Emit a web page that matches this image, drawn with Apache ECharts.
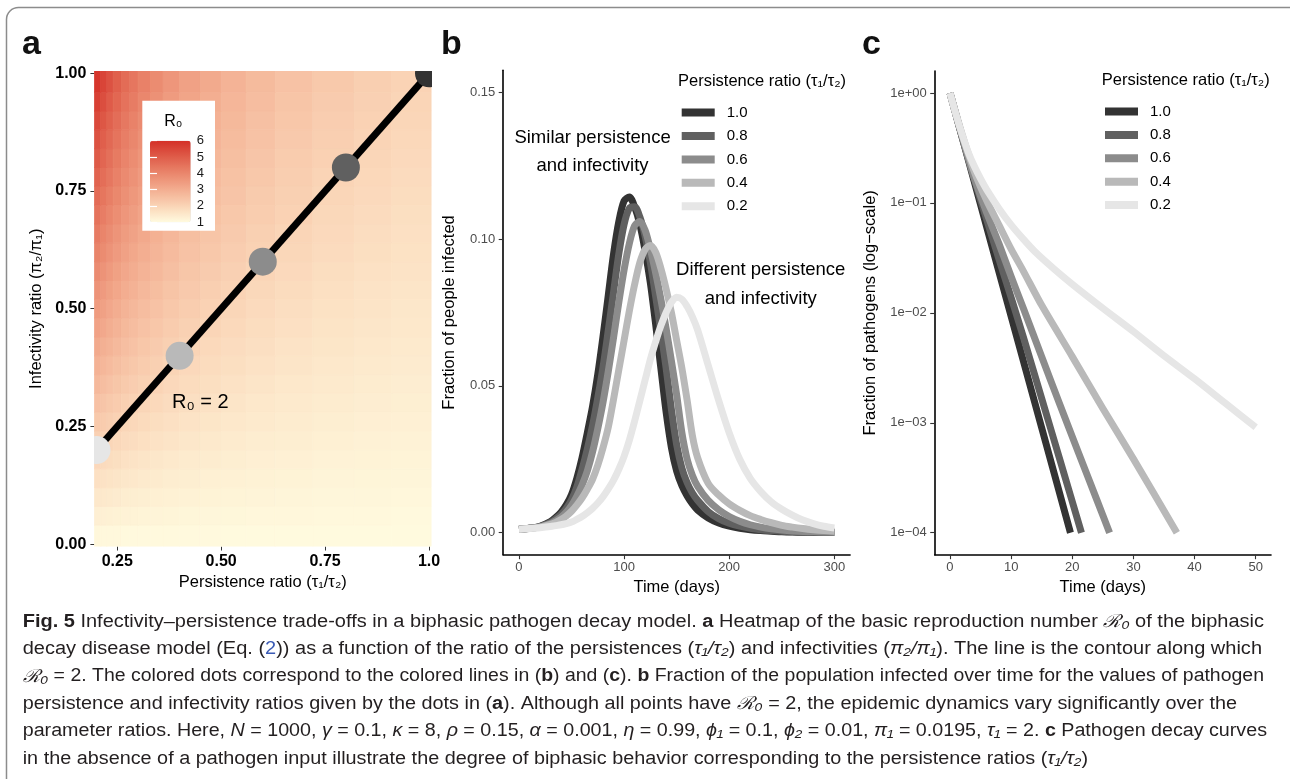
<!DOCTYPE html>
<html>
<head>
<meta charset="utf-8">
<title>Infectivity–persistence trade-offs</title>
<script src="https://cdn.jsdelivr.net/npm/echarts@6/dist/echarts.min.js"></script>
<style>
  html, body { margin: 0; padding: 0; background: #fff; }
  #chart { width: 1290px; height: 779px; }
</style>
</head>
<body>
<div id="chart"></div>
<script>
// ---- data ----
const ratioNames = ['1.0', '0.8', '0.6', '0.4', '0.2'];

// panel a: R0 heatmap, cell edges (persistence on x, infectivity on y)
const persistEdges = [0.195, 0.21, 0.225, 0.24, 0.26, 0.28, 0.30, 0.33, 0.36, 0.40, 0.45,
                      0.50, 0.56, 0.63, 0.72, 0.82, 0.91, 1.005];
const infectEdges = [-0.005, 0.04, 0.08, 0.12, 0.16, 0.20, 0.24, 0.28, 0.32, 0.36, 0.40, 0.44, 0.48,
                     0.52, 0.56, 0.60, 0.64, 0.68, 0.72, 0.76, 0.80, 0.84, 0.88, 0.92, 0.96, 1.005];
// one row per infectivity band, bottom to top
const r0Grid = [
  [1.09, 1.08, 1.08, 1.07, 1.06, 1.06, 1.06, 1.05, 1.05, 1.04, 1.04, 1.03, 1.03, 1.03, 1.02, 1.02, 1.02],
  [1.30, 1.28, 1.26, 1.24, 1.22, 1.21, 1.19, 1.17, 1.16, 1.14, 1.13, 1.11, 1.10, 1.09, 1.08, 1.07, 1.06],
  [1.49, 1.46, 1.43, 1.40, 1.37, 1.34, 1.32, 1.29, 1.26, 1.24, 1.21, 1.19, 1.17, 1.15, 1.13, 1.12, 1.10],
  [1.69, 1.64, 1.60, 1.56, 1.52, 1.48, 1.44, 1.41, 1.37, 1.33, 1.29, 1.26, 1.24, 1.21, 1.18, 1.16, 1.15],
  [1.89, 1.83, 1.77, 1.72, 1.67, 1.62, 1.57, 1.52, 1.47, 1.42, 1.38, 1.34, 1.30, 1.27, 1.23, 1.21, 1.19],
  [2.09, 2.01, 1.95, 1.88, 1.81, 1.76, 1.70, 1.64, 1.58, 1.52, 1.46, 1.42, 1.37, 1.33, 1.29, 1.25, 1.23],
  [2.28, 2.20, 2.12, 2.04, 1.96, 1.90, 1.83, 1.75, 1.68, 1.61, 1.55, 1.49, 1.44, 1.39, 1.34, 1.30, 1.27],
  [2.48, 2.38, 2.29, 2.20, 2.11, 2.03, 1.95, 1.87, 1.79, 1.71, 1.63, 1.57, 1.50, 1.44, 1.39, 1.35, 1.31],
  [2.68, 2.56, 2.46, 2.36, 2.26, 2.17, 2.08, 1.99, 1.89, 1.80, 1.72, 1.64, 1.57, 1.50, 1.44, 1.39, 1.35],
  [2.88, 2.75, 2.63, 2.52, 2.41, 2.31, 2.21, 2.10, 2.00, 1.89, 1.80, 1.72, 1.64, 1.56, 1.49, 1.44, 1.40],
  [3.07, 2.93, 2.81, 2.68, 2.56, 2.45, 2.33, 2.22, 2.11, 1.99, 1.88, 1.79, 1.71, 1.62, 1.55, 1.49, 1.44],
  [3.27, 3.12, 2.98, 2.84, 2.70, 2.59, 2.46, 2.33, 2.21, 2.08, 1.97, 1.87, 1.77, 1.68, 1.60, 1.53, 1.48],
  [3.47, 3.30, 3.15, 3.00, 2.85, 2.72, 2.59, 2.45, 2.32, 2.18, 2.05, 1.94, 1.84, 1.74, 1.65, 1.58, 1.52],
  [3.67, 3.48, 3.32, 3.16, 3.00, 2.86, 2.71, 2.57, 2.42, 2.27, 2.14, 2.02, 1.91, 1.80, 1.70, 1.62, 1.56],
  [3.86, 3.67, 3.49, 3.32, 3.15, 3.00, 2.84, 2.68, 2.53, 2.36, 2.22, 2.09, 1.97, 1.86, 1.75, 1.67, 1.61],
  [4.06, 3.85, 3.67, 3.48, 3.30, 3.14, 2.97, 2.80, 2.63, 2.46, 2.31, 2.17, 2.04, 1.92, 1.81, 1.72, 1.65],
  [4.26, 4.03, 3.84, 3.64, 3.44, 3.28, 3.10, 2.91, 2.74, 2.55, 2.39, 2.25, 2.11, 1.98, 1.86, 1.76, 1.69],
  [4.46, 4.22, 4.01, 3.80, 3.59, 3.41, 3.22, 3.03, 2.84, 2.65, 2.47, 2.32, 2.18, 2.04, 1.91, 1.81, 1.73],
  [4.65, 4.40, 4.18, 3.96, 3.74, 3.55, 3.35, 3.15, 2.95, 2.74, 2.56, 2.40, 2.24, 2.10, 1.96, 1.86, 1.77],
  [4.85, 4.59, 4.36, 4.12, 3.89, 3.69, 3.48, 3.26, 3.05, 2.84, 2.64, 2.47, 2.31, 2.16, 2.01, 1.90, 1.81],
  [5.05, 4.77, 4.53, 4.28, 4.04, 3.83, 3.60, 3.38, 3.16, 2.93, 2.73, 2.55, 2.38, 2.21, 2.07, 1.95, 1.86],
  [5.25, 4.95, 4.70, 4.44, 4.19, 3.97, 3.73, 3.49, 3.26, 3.02, 2.81, 2.62, 2.45, 2.27, 2.12, 1.99, 1.90],
  [5.44, 5.14, 4.87, 4.60, 4.33, 4.10, 3.86, 3.61, 3.37, 3.12, 2.89, 2.70, 2.51, 2.33, 2.17, 2.04, 1.94],
  [5.64, 5.32, 5.04, 4.76, 4.48, 4.24, 3.98, 3.73, 3.47, 3.21, 2.98, 2.77, 2.58, 2.39, 2.22, 2.09, 1.98],
  [5.85, 5.52, 5.23, 4.93, 4.64, 4.39, 4.12, 3.85, 3.59, 3.31, 3.07, 2.85, 2.65, 2.46, 2.28, 2.14, 2.03]
];
const contourPersist = [0.2, 1.0];
const contourInfect = [0.2, 1.0];
const dotPersist = [1.0, 0.8, 0.6, 0.4, 0.2];
const dotInfect = [1.0, 0.8, 0.6, 0.4, 0.2];

// panel b: fraction infected over time
const days = [0, 10, 20, 30, 35, 40, 45, 50, 55, 60, 65, 70, 75, 80, 85, 90, 95, 100, 105, 110,
              115, 120, 125, 130, 135, 140, 145, 150, 155, 160, 165, 170, 180, 190, 200, 210,
              220, 230, 240, 250, 260, 270, 280, 290, 300];
const infected10 = [0.0012, 0.0015, 0.0022, 0.0038, 0.0052, 0.0070, 0.0095, 0.0130, 0.0185, 0.0255,
  0.0340, 0.0430, 0.0540, 0.0670, 0.0810, 0.0950, 0.1060, 0.1130, 0.1143, 0.1110, 0.1050, 0.0960,
  0.0850, 0.0710, 0.0560, 0.0410, 0.0290, 0.0210, 0.0160, 0.0125, 0.0098, 0.0077, 0.0050, 0.0033,
  0.0022, 0.0015, 0.0010, 0.0007, 0.0005, 0.0003, 0.0002, 0.00015, 0.0001, 0.00007, 0.00005];
const infected08 = [0.0012, 0.0015, 0.0021, 0.0035, 0.0047, 0.0062, 0.0083, 0.0112, 0.0155, 0.0215,
  0.0285, 0.0365, 0.0460, 0.0565, 0.0690, 0.0820, 0.0950, 0.1050, 0.1105, 0.1110, 0.1075, 0.1010,
  0.0920, 0.0805, 0.0685, 0.0560, 0.0420, 0.0300, 0.0220, 0.0170, 0.0135, 0.0110, 0.0072, 0.0048,
  0.0032, 0.0022, 0.0015, 0.0010, 0.0007, 0.0005, 0.0003, 0.0002, 0.00015, 0.0001, 0.00008];
const infected06 = [0.0012, 0.0015, 0.0020, 0.0031, 0.0041, 0.0053, 0.0070, 0.0093, 0.0124, 0.0162,
  0.0210, 0.0275, 0.0355, 0.0445, 0.0550, 0.0665, 0.0785, 0.0895, 0.0985, 0.1045, 0.1060, 0.1030,
  0.0965, 0.0885, 0.0795, 0.0695, 0.0585, 0.0470, 0.0340, 0.0250, 0.0195, 0.0158, 0.0110, 0.0078,
  0.0055, 0.0039, 0.0027, 0.0019, 0.0013, 0.0009, 0.0006, 0.0004, 0.0003, 0.00022, 0.00016];
const infected04 = [0.0012, 0.0014, 0.0019, 0.0028, 0.0035, 0.0045, 0.0057, 0.0073, 0.0094, 0.0118,
  0.0148, 0.0182, 0.0230, 0.0290, 0.0360, 0.0455, 0.0555, 0.0655, 0.0755, 0.0845, 0.0920, 0.0965,
  0.0978, 0.0955, 0.0900, 0.0830, 0.0750, 0.0655, 0.0560, 0.0450, 0.0330, 0.0255, 0.0168, 0.0128,
  0.0098, 0.0076, 0.0058, 0.0045, 0.0034, 0.0025, 0.0019, 0.0014, 0.0010, 0.0007, 0.0005];
const infected02 = [0.0012, 0.0014, 0.0017, 0.0021, 0.0024, 0.0027, 0.0031, 0.0036, 0.0045, 0.0055,
  0.0068, 0.0083, 0.0101, 0.0123, 0.0149, 0.0179, 0.0216, 0.0260, 0.0315, 0.0380, 0.0450, 0.0520,
  0.0590, 0.0650, 0.0705, 0.0750, 0.0785, 0.0802, 0.0795, 0.0770, 0.0735, 0.0690, 0.0570, 0.0450,
  0.0340, 0.0250, 0.0185, 0.0140, 0.0105, 0.0080, 0.0060, 0.0043, 0.0031, 0.0022, 0.0016];

// panel c: fraction of pathogens remaining
const decayDays10 = [0, 5, 10, 15, 19.7];
const decay10 = [1, 0.0965, 0.0093, 0.0009, 0.0001];
const decayDays08 = [0, 2, 4, 6, 8, 10, 12, 15, 18, 21.5];
const decay08 = [1, 0.398, 0.162, 0.0708, 0.0309, 0.0138, 0.00603, 0.00166, 0.000457, 0.0001];
const decayDays06 = [0, 2, 4, 6, 8, 10, 12, 15, 18, 21, 24, 26.1];
const decay06 = [1, 0.398, 0.166, 0.0813, 0.0427, 0.0214, 0.0110, 0.00398, 0.00145, 0.000537, 0.0002, 0.0001];
const decayDays04 = [0, 2, 4, 6, 8, 10, 12, 15, 20, 25, 30, 37.1];
const decay04 = [1, 0.417, 0.191, 0.105, 0.0631, 0.0380, 0.0240, 0.0117, 0.0040, 0.00135, 0.00047, 0.0001];
const decayDays02 = [0, 1, 2, 3, 4, 5, 6, 8, 10, 12, 14, 17, 20, 25, 30, 35, 40, 45, 50];
const decay02 = [1, 0.631, 0.417, 0.288, 0.214, 0.166, 0.132, 0.0891, 0.0631, 0.0468, 0.0355,
  0.0251, 0.0182, 0.0110, 0.00676, 0.00407, 0.00251, 0.00151, 0.000912];

// tick labels
const persistTicks = [0.25, 0.5, 0.75, 1.0];
const infectTicks = [0, 0.25, 0.5, 0.75, 1.0];
const dayTicksB = [0, 100, 200, 300];
const fracTicksB = [0, 0.05, 0.1, 0.15];
const dayTicksC = [0, 10, 20, 30, 40, 50];
const logTicksC = [-4, -3, -2, -1, 0];

// annotations
const noteDays = [70, 230];
const noteFrac = [0.1296, 0.0846];
const noteText = ['Similar persistence\nand infectivity', 'Different persistence\nand infectivity'];

// ---- styles ----
const FONT = '"Liberation Sans", Arial, Helvetica, sans-serif';
const lineColors = ['#333333', '#606060', '#8c8c8c', '#b9b9b9', '#e6e6e6'];
const r0Colors = ['#fffbdf', '#fad4b6', '#f3ad90', '#ea866c', '#df5d4a', '#d42f27'];

const heatData = [];
r0Grid.forEach((row, i) => {
  row.forEach((v, j) => {
    const x0 = persistEdges[j], x1 = persistEdges[j + 1];
    const y0 = infectEdges[i], y1 = infectEdges[i + 1];
    heatData.push([(x0 + x1) / 2, (y0 + y1) / 2, v, x0, x1, y0, y1]);
  });
});

const infectedCurves = [infected10, infected08, infected06, infected04, infected02];
const decayDayList = [decayDays10, decayDays08, decayDays06, decayDays04, decayDays02];
const decayList = [decay10, decay08, decay06, decay04, decay02];

const chart = echarts.init(document.getElementById('chart'));

function valueAxisB(extra) {
  return Object.assign({
    type: 'value',
    axisLine: { show: true, onZero: false, lineStyle: { color: '#000', width: 1.6 } },
    splitLine: { show: false },
    nameLocation: 'middle',
    nameTextStyle: { color: '#000', fontSize: 16.5, fontFamily: FONT }
  }, extra);
}

const seriesList = [];
// 0: heatmap cells
seriesList.push({
  type: 'custom',
  xAxisIndex: 0, yAxisIndex: 0,
  data: heatData,
  encode: { x: 0, y: 1 },
  clip: true,
  silent: true,
  renderItem(params, api) {
    const p0 = api.coord([api.value(3), api.value(6)]);
    const p1 = api.coord([api.value(4), api.value(5)]);
    const c = api.visual('color');
    return {
      type: 'rect',
      shape: { x: p0[0], y: p0[1], width: p1[0] - p0[0], height: p1[1] - p0[1] },
      style: { fill: c, stroke: c, lineWidth: 0.8 }
    };
  }
});
// 1: R0 = 2 contour
seriesList.push({
  type: 'line',
  xAxisIndex: 0, yAxisIndex: 0,
  data: contourPersist.map((x, i) => [x, contourInfect[i]]),
  symbol: 'none',
  silent: true,
  z: 3,
  lineStyle: { color: '#000', width: 7 }
});
// 2: dots on the contour
seriesList.push({
  type: 'custom',
  xAxisIndex: 0, yAxisIndex: 0,
  clip: true,
  silent: true,
  z: 4,
  data: dotPersist.map((x, i) => ({ value: [x, dotInfect[i]], itemStyle: { color: lineColors[i] } })),
  encode: { x: 0, y: 1 },
  renderItem(params, api) {
    const p = api.coord([api.value(0), api.value(1)]);
    return { type: 'circle', shape: { cx: p[0], cy: p[1], r: 14 }, style: { fill: api.visual('color'), opacity: 1 } };
  }
});
// 3: contour label
seriesList.push({
  type: 'scatter',
  xAxisIndex: 0, yAxisIndex: 0,
  symbolSize: 0,
  silent: true,
  z: 5,
  itemStyle: { opacity: 1 },
  data: [{ name: 'R₀ = 2', value: [0.45, 0.30] }],
  label: { show: true, position: 'inside', formatter: '{b}', color: '#000', fontSize: 20, fontFamily: FONT }
});
// panel b lines
ratioNames.forEach((name, k) => {
  seriesList.push({
    type: 'line',
    name: name,
    xAxisIndex: 2, yAxisIndex: 3,
    data: days.map((d, i) => [d, infectedCurves[k][i]]),
    symbol: 'none',
    smooth: 0.3,
    silent: true,
    color: lineColors[k],
    itemStyle: { color: lineColors[k] },
    lineStyle: { color: lineColors[k], width: 7, join: 'round' }
  });
});
// panel b notes
seriesList.push({
  type: 'scatter',
  xAxisIndex: 2, yAxisIndex: 3,
  symbolSize: 0,
  silent: true,
  z: 5,
  itemStyle: { opacity: 1 },
  data: noteText.map((t, i) => ({ name: t, value: [noteDays[i], noteFrac[i]] })),
  label: { show: true, position: 'inside', formatter: '{b}', color: '#000', fontSize: 18.5, lineHeight: 28.5, fontFamily: FONT }
});
// panel c lines (log10 of fraction on a value axis)
ratioNames.forEach((name, k) => {
  seriesList.push({
    type: 'line',
    name: name,
    xAxisIndex: 3, yAxisIndex: 4,
    data: decayDayList[k].map((d, i) => [d, Math.log10(decayList[k][i])]),
    symbol: 'none',
    smooth: k >= 3 ? 0.25 : 0.15,
    silent: true,
    color: lineColors[k],
    itemStyle: { color: lineColors[k] },
    lineStyle: { color: lineColors[k], width: 7, join: 'round' }
  });
});

// caption, laid out line by line
const captionLines = [
  [['b', 'Fig. 5'], ['n', ' Infectivity–persistence trade-offs in a biphasic pathogen decay model. '], ['b', 'a'],
   ['n', ' Heatmap of the basic reproduction number '], ['i', 'ℛ₀'], ['n', ' of the biphasic']],
  [['n', 'decay disease model (Eq. ('], ['l', '2'], ['n', ')) as a function of the ratio of the persistences ('],
   ['i', 'τ₁/τ₂'], ['n', ') and infectivities ('], ['i', 'π₂/π₁'], ['n', '). The line is the contour along which']],
  [['i', 'ℛ₀'], ['n', ' = 2. The colored dots correspond to the colored lines in ('], ['b', 'b'], ['n', ') and ('],
   ['b', 'c'], ['n', '). '], ['b', 'b'], ['n', ' Fraction of the population infected over time for the values of pathogen']],
  [['n', 'persistence and infectivity ratios given by the dots in ('], ['b', 'a'], ['n', '). Although all points have '],
   ['i', 'ℛ₀'], ['n', ' = 2, the epidemic dynamics vary significantly over the']],
  [['n', 'parameter ratios. Here, '], ['i', 'N'], ['n', ' = 1000, '], ['i', 'γ'], ['n', ' = 0.1, '], ['i', 'κ'],
   ['n', ' = 8, '], ['i', 'ρ'], ['n', ' = 0.15, '], ['i', 'α'], ['n', ' = 0.001, '], ['i', 'η'], ['n', ' = 0.99, '],
   ['i', 'ϕ₁'], ['n', ' = 0.1, '], ['i', 'ϕ₂'], ['n', ' = 0.01, '], ['i', 'π₁'], ['n', ' = 0.0195, '], ['i', 'τ₁'],
   ['n', ' = 2. '], ['b', 'c'], ['n', ' Pathogen decay curves']],
  [['n', 'in the absence of a pathogen input illustrate the degree of biphasic behavior corresponding to the persistence ratios ('],
   ['i', 'τ₁/τ₂'], ['n', ')']]
];
const captionEnd = [1264, 1262, 1264, 1237, 1267, 1088];
const capLeft = 22.7, capTop = 621.7, capStep = 27.4, capSize = 18;
const measureCtx = document.createElement('canvas').getContext('2d');
function segFont(k) {
  return (k === 'b' ? 'bold ' : k === 'i' ? 'italic ' : '') + capSize + 'px ' + FONT;
}
function segsWidth(segs) {
  let w = 0;
  segs.forEach(([k, t]) => { measureCtx.font = segFont(k); w += measureCtx.measureText(t).width; });
  return w;
}
const capRich = {
  n: { fontSize: capSize, fontFamily: FONT, fill: '#231f20' },
  b: { fontSize: capSize, fontFamily: FONT, fontWeight: 'bold', fill: '#231f20' },
  i: { fontSize: capSize, fontFamily: FONT, fontStyle: 'italic', fill: '#231f20' },
  l: { fontSize: capSize, fontFamily: FONT, fill: '#3b5bb5' }
};
const captionGraphics = captionLines.map((segs, i) => ({
  type: 'text',
  x: capLeft,
  y: capTop + i * capStep,
  scaleX: (captionEnd[i] - capLeft) / segsWidth(segs),
  silent: true,
  style: {
    text: segs.map(([k, t]) => '{' + k + '|' + t + '}').join(''),
    rich: capRich,
    verticalAlign: 'middle',
    fontSize: capSize,
    fontFamily: FONT
  }
}));

const legendCommon = {
  orient: 'vertical',
  icon: 'rect',
  itemWidth: 33,
  itemHeight: 8,
  itemGap: 7.4,
  padding: 0,
  selectedMode: false,
  itemStyle: { borderWidth: 0 },
  textStyle: { color: '#000', fontSize: 15, fontFamily: FONT, lineHeight: 16, padding: [0, 0, 0, 7] },
  data: ratioNames
};

const tickStyleB = { show: true, length: 4.5, lineStyle: { color: '#333', width: 1.1 } };
const labelStyleB = { margin: 6, color: '#4d4d4d', fontSize: 13, fontFamily: FONT };

chart.setOption({
  animation: false,
  textStyle: { fontFamily: FONT },
  grid: [
    { left: 94.4, top: 71, width: 336.7, height: 475.5 },
    { left: 150, top: 140.7, width: 40.7, height: 81.5 },
    { left: 503.2, top: 70.2, width: 346.9, height: 484.5 },
    { left: 934.7, top: 71, width: 336.3, height: 483.7 }
  ],
  xAxis: [
    {
      type: 'value', gridIndex: 0, min: 0.195, max: 1.005,
      axisLine: { show: false, onZero: false },
      axisTick: { show: true, customValues: persistTicks, length: 4, lineStyle: { color: '#333' } },
      axisLabel: {
        customValues: persistTicks, margin: 7, color: '#000', fontWeight: 'bold', fontSize: 16,
        formatter: v => (v === 1 ? '1.0' : v.toFixed(2))
      },
      splitLine: { show: false },
      name: 'Persistence ratio (τ₁/τ₂)', nameLocation: 'middle', nameGap: 25,
      nameTextStyle: { color: '#000', fontSize: 16.5, fontFamily: FONT }
    },
    { type: 'value', gridIndex: 1, min: 0, max: 1, show: false },
    valueAxisB({
      gridIndex: 2, min: -15, max: 315,
      axisTick: Object.assign({ customValues: dayTicksB }, tickStyleB),
      axisLabel: Object.assign({ customValues: dayTicksB }, labelStyleB),
      name: 'Time (days)', nameGap: 23.5
    }),
    valueAxisB({
      gridIndex: 3, min: -2.5, max: 52.5,
      axisTick: Object.assign({ customValues: dayTicksC }, tickStyleB),
      axisLabel: Object.assign({ customValues: dayTicksC }, labelStyleB),
      name: 'Time (days)', nameGap: 23.5
    })
  ],
  yAxis: [
    {
      type: 'value', gridIndex: 0, min: -0.005, max: 1.005,
      axisLine: { show: false, onZero: false },
      axisTick: { show: true, customValues: infectTicks, length: 4, lineStyle: { color: '#333' } },
      axisLabel: {
        customValues: infectTicks, margin: 8, color: '#000', fontWeight: 'bold', fontSize: 16,
        formatter: v => v.toFixed(2)
      },
      splitLine: { show: false },
      name: 'Infectivity ratio (π₂/π₁)', nameLocation: 'middle', nameGap: 49,
      nameTextStyle: { color: '#000', fontSize: 16.5, fontFamily: FONT }
    },
    {
      type: 'value', gridIndex: 1, min: 1, max: 6, interval: 1, position: 'right', z: 10,
      axisLine: { show: false },
      axisTick: { show: true, inside: true, length: 7, lineStyle: { color: '#fff', width: 1.2 } },
      axisLabel: { margin: 6, color: '#1a1a1a', fontSize: 13 },
      splitLine: { show: false }
    },
    {
      type: 'value', gridIndex: 1, min: 1, max: 6, interval: 1, position: 'left', z: 10,
      axisLine: { show: false },
      axisTick: { show: true, inside: true, length: 7, lineStyle: { color: '#fff', width: 1.2 } },
      axisLabel: { show: false },
      splitLine: { show: false }
    },
    valueAxisB({
      gridIndex: 2, min: -0.0075, max: 0.1575,
      axisTick: Object.assign({ customValues: fracTicksB }, tickStyleB),
      axisLabel: Object.assign({}, labelStyleB, { customValues: fracTicksB, margin: 8, formatter: v => v.toFixed(2) }),
      name: 'Fraction of people infected', nameGap: 45
    }),
    valueAxisB({
      gridIndex: 3, min: -4.2, max: 0.2,
      axisTick: Object.assign({ customValues: logTicksC }, tickStyleB),
      axisLabel: Object.assign({}, labelStyleB, {
        customValues: logTicksC, margin: 8,
        formatter: v => '1e' + (v < 0 ? '−' : '+') + String(Math.abs(Math.round(v))).padStart(2, '0')
      }),
      name: 'Fraction of pathogens (log−scale)', nameGap: 56
    })
  ],
  visualMap: {
    type: 'continuous',
    min: 1, max: 6,
    dimension: 2,
    seriesIndex: 0,
    calculable: false,
    hoverLink: false,
    left: 150, top: 140.7,
    itemWidth: 40.7, itemHeight: 81.5,
    padding: 0,
    z: 5,
    inRange: { color: r0Colors }
  },
  legend: [
    Object.assign({ left: 681.7, top: 104.6 }, legendCommon),
    Object.assign({ left: 1105, top: 103.5 }, legendCommon)
  ],
  graphic: [
    { type: 'rect', z: 0, silent: true, shape: { x: 6.5, y: 7.5, width: 1300, height: 800, r: 12 },
      style: { fill: 'none', stroke: '#8c8c8c', lineWidth: 1.5 } },
    { type: 'rect', z: 3, silent: true, shape: { x: 142.3, y: 100.7, width: 72.7, height: 130 },
      style: { fill: '#fff' } },
    { type: 'text', z: 6, x: 173.4, y: 121.7, silent: true,
      style: { text: 'R₀', fontSize: 16, fontFamily: FONT, fill: '#000', align: 'center', verticalAlign: 'middle' } },
    { type: 'text', x: 22, y: 45, silent: true,
      style: { text: 'a', fontSize: 34, fontWeight: 'bold', fontFamily: FONT, fill: '#111', verticalAlign: 'middle' } },
    { type: 'text', x: 441, y: 45, silent: true,
      style: { text: 'b', fontSize: 34, fontWeight: 'bold', fontFamily: FONT, fill: '#111', verticalAlign: 'middle' } },
    { type: 'text', x: 862, y: 45, silent: true,
      style: { text: 'c', fontSize: 34, fontWeight: 'bold', fontFamily: FONT, fill: '#111', verticalAlign: 'middle' } },
    { type: 'text', x: 678, y: 81, silent: true,
      style: { text: 'Persistence ratio (τ₁/τ₂)', fontSize: 16.5, fontFamily: FONT, fill: '#000', verticalAlign: 'middle' } },
    { type: 'text', x: 1101.7, y: 80, silent: true,
      style: { text: 'Persistence ratio (τ₁/τ₂)', fontSize: 16.5, fontFamily: FONT, fill: '#000', verticalAlign: 'middle' } }
  ].concat(captionGraphics),
  series: seriesList
});
</script>
</body>
</html>
